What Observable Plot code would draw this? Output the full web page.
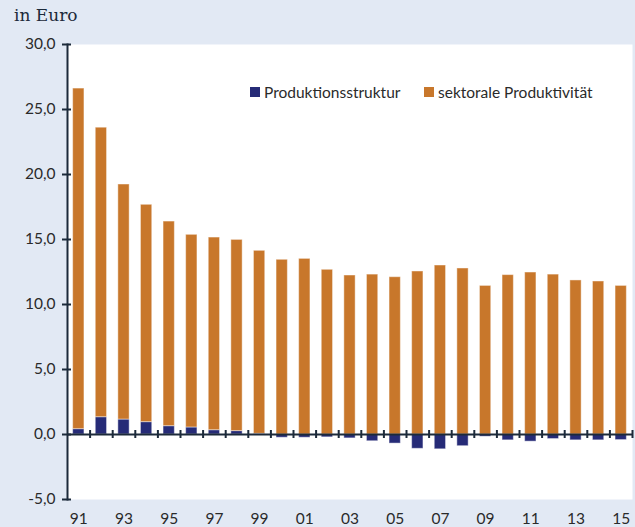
<!DOCTYPE html>
<html>
<head>
<meta charset="utf-8">
<script src="https://cdn.jsdelivr.net/npm/d3@7"></script>
<script src="https://cdn.jsdelivr.net/npm/@observablehq/plot@0.6"></script>
<style>
  html, body { margin: 0; padding: 0; background: #e2e9f4; }
  #wrap { position: relative; width: 635px; height: 527px; background: #e2e9f4; }
  #title { position: absolute; left: 14px; top: 5px; font-family: "DejaVu Serif", serif; font-size: 17px; color: #1c2a3a; }
  .leg { position: absolute; top: 83px; font-family: Lato, sans-serif; font-size: 15.5px; color: #2a2a2a; display: flex; align-items: center; white-space: nowrap; }
  .sw { display: inline-block; width: 10px; height: 10px; margin-right: 4px; }
</style>
</head>
<body>
<div id="wrap">
  <div id="title">in Euro</div>
  <div id="chart"></div>
  <div class="leg" style="left:250px"><span class="sw" style="background:#262b77"></span>Produktionsstruktur</div>
  <div class="leg" style="left:424px"><span class="sw" style="background:#c8772b"></span>sektorale Produktivität</div>
</div>
<script>
const years = d3.range(1991, 2016);
const seriesNames = ["Produktionsstruktur", "sektorale Produktivität"];
const produktionsstruktur = [0.41, 1.33, 1.15, 0.95, 0.64, 0.54, 0.33, 0.26, 0.05, -0.25, -0.25, -0.22, -0.3, -0.52, -0.7, -1.1, -1.14, -0.9, -0.17, -0.45, -0.55, -0.35, -0.45, -0.45, -0.43];
const sektoraleProduktivitaet = [26.2, 22.27, 18.08, 16.72, 15.74, 14.82, 14.82, 14.71, 14.08, 13.44, 13.51, 12.67, 12.23, 12.3, 12.1, 12.54, 13.0, 12.77, 11.43, 12.26, 12.46, 12.3, 11.85, 11.77, 11.43];
const yTicks = [-5, 0, 5, 10, 15, 20, 25, 30];
const xLabelYears = years.filter(y => y % 2 === 1);
const colors = ["#262b77", "#c8772b"];

const data = [
  ...years.map((y, i) => ({year: y, series: seriesNames[0], value: produktionsstruktur[i]})),
  ...years.map((y, i) => ({year: y, series: seriesNames[1], value: sektoraleProduktivitaet[i]}))
];

const W = 635, ML = 67, MR = 3;
const step = (W - ML - MR) / years.length;
const fmt = d => d3.format(".1f")(d).replace(".", ",").replace("−", "-");

const chart = Plot.plot({
  width: 635,
  height: 527,
  marginLeft: ML,
  marginRight: MR,
  marginTop: 44,
  marginBottom: 28,
  style: {background: "transparent", fontFamily: "Lato, sans-serif", fontSize: "15px", color: "#2a2a2a"},
  x: {type: "band", domain: years, paddingInner: 0.5, paddingOuter: 0.25, round: false, axis: null, label: null},
  y: {domain: [-5, 30], axis: null, label: null},
  color: {domain: seriesNames, range: colors},
  marks: [
    Plot.frame({fill: "white", stroke: "none"}),
    Plot.barY(data, {x: "year", y: "value", fill: "series", stroke: "white", strokeOpacity: 0.45, strokeWidth: 1}),
    Plot.ruleY([0], {stroke: "#1c2a3a", strokeWidth: 2}),
    Plot.ruleX(years, {x: d => d, y1: 0, y2: 0, insetTop: -4, insetBottom: -4, dx: step / 2, stroke: "#1c2a3a", strokeWidth: 2}),
    Plot.frame({anchor: "left", stroke: "#1c2a3a", strokeWidth: 2}),
    Plot.axisY({ticks: yTicks, tickFormat: fmt, tickSize: 9, dx: 4, tickPadding: 7, stroke: "#1c2a3a", strokeWidth: 2, fontSize: 15.5, fill: "#2a2a2a", label: null}),
    Plot.axisX({ticks: xLabelYears, tickFormat: d => String(d).slice(2), tickSize: 0, tickPadding: 13, fontSize: 15.5, fill: "#2a2a2a", label: null})
  ]
});
document.getElementById("chart").appendChild(chart);
</script>
</body>
</html>
